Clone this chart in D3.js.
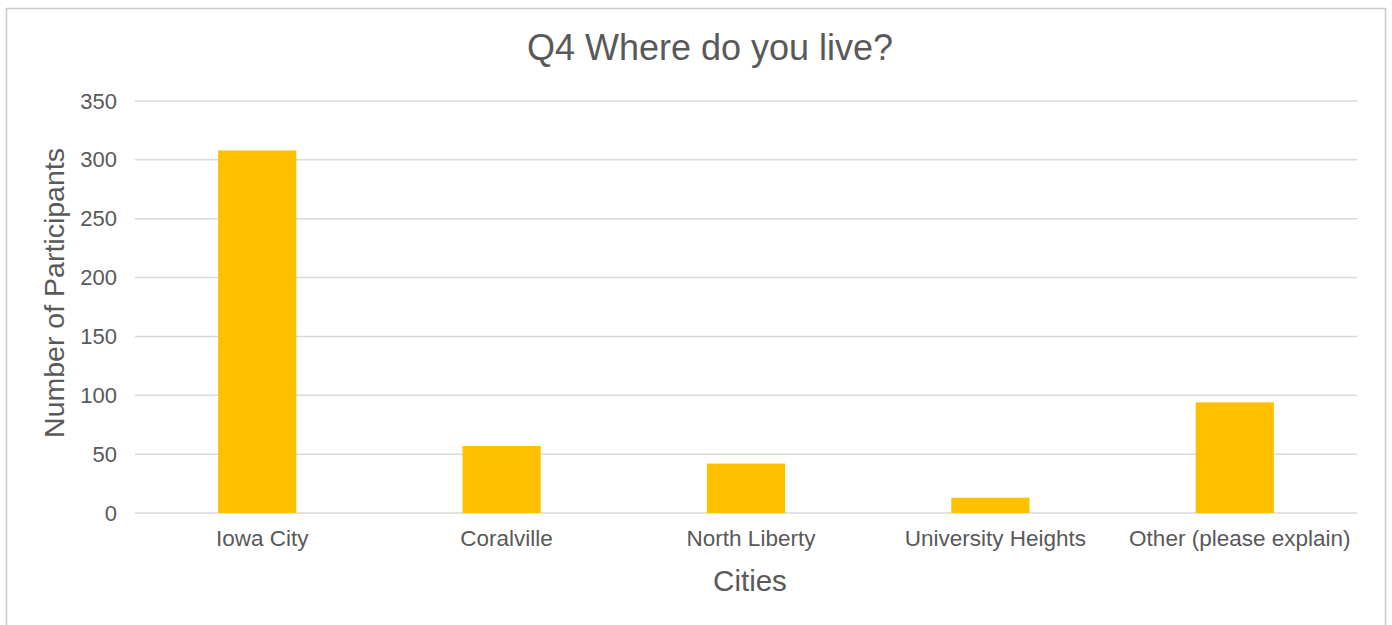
<!DOCTYPE html>
<html>
<head>
<meta charset="utf-8">
<script src="https://cdn.jsdelivr.net/npm/d3@7"></script>
<style>
  html, body { margin: 0; padding: 0; background: #fff; }
  svg { display: block; font-family: "Liberation Sans", Arial, Helvetica, sans-serif; }
</style>
</head>
<body>
<svg id="chart" width="1392" height="625"></svg>
<script>
// Survey responses: Q4 Where do you live?
const cities = ["Iowa City", "Coralville", "North Liberty", "University Heights", "Other (please explain)"];
const participants = [308, 57, 42, 13, 94];
const yTicks = [0, 50, 100, 150, 200, 250, 300, 350];

const titleText = "Q4 Where do you live?";
const xTitle = "Cities";
const yTitle = "Number of Participants";

const plot = { left: 135, right: 1357, top: 101, bottom: 513 };
const textColor = "#595959";

const svg = d3.select("#chart");

// Chart frame
svg.append("rect")
  .attr("x", 6.5).attr("y", 8.5)
  .attr("width", 1379).attr("height", 640)
  .attr("fill", "#fff")
  .attr("stroke", "#c9c9c9")
  .attr("stroke-width", 1.5);

const x = d3.scaleBand()
  .domain(cities)
  .range([plot.left, plot.right])
  .paddingInner(0.68)
  .paddingOuter(0.34);

const y = d3.scaleLinear()
  .domain([0, 350])
  .range([plot.bottom, plot.top]);

// Horizontal gridlines
svg.append("g")
  .selectAll("line")
  .data(yTicks)
  .join("line")
  .attr("x1", plot.left).attr("x2", plot.right)
  .attr("y1", d => y(d)).attr("y2", d => y(d))
  .attr("stroke", "#d9d9d9")
  .attr("stroke-width", 1.5);

// Y axis labels
const yAxis = d3.axisLeft(y).tickValues(yTicks).tickSize(0).tickPadding(18);
const gy = svg.append("g")
  .attr("transform", `translate(${plot.left},0)`)
  .call(yAxis);
gy.select(".domain").remove();
gy.selectAll("text")
  .attr("fill", textColor)
  .style("font-size", "22px")
  .attr("dy", "0.32em");

// Bars
svg.append("g")
  .selectAll("rect")
  .data(cities)
  .join("rect")
  .attr("x", d => x(d))
  .attr("width", x.bandwidth())
  .attr("y", (d, i) => y(participants[i]))
  .attr("height", (d, i) => y(0) - y(participants[i]))
  .attr("fill", "#FFC000");

// X axis labels
const xAxis = d3.axisBottom(x).tickSize(0).tickPadding(0);
const gx = svg.append("g")
  .attr("transform", `translate(0,${plot.bottom})`)
  .call(xAxis);
gx.select(".domain").remove();
gx.selectAll("text")
  .attr("fill", textColor)
  .style("font-size", "22.5px")
  .attr("dy", null)
  .attr("dx", 5)
  .attr("y", 33);

// Title
svg.append("text")
  .attr("x", 710).attr("y", 60)
  .attr("text-anchor", "middle")
  .attr("fill", textColor)
  .style("font-size", "36px")
  .text(titleText);

// Axis titles
svg.append("text")
  .attr("x", 750).attr("y", 591)
  .attr("text-anchor", "middle")
  .attr("fill", textColor)
  .style("font-size", "29.5px")
  .text(xTitle);

svg.append("text")
  .attr("transform", "translate(64,293) rotate(-90)")
  .attr("text-anchor", "middle")
  .attr("fill", textColor)
  .style("font-size", "28.5px")
  .text(yTitle);
</script>
</body>
</html>
